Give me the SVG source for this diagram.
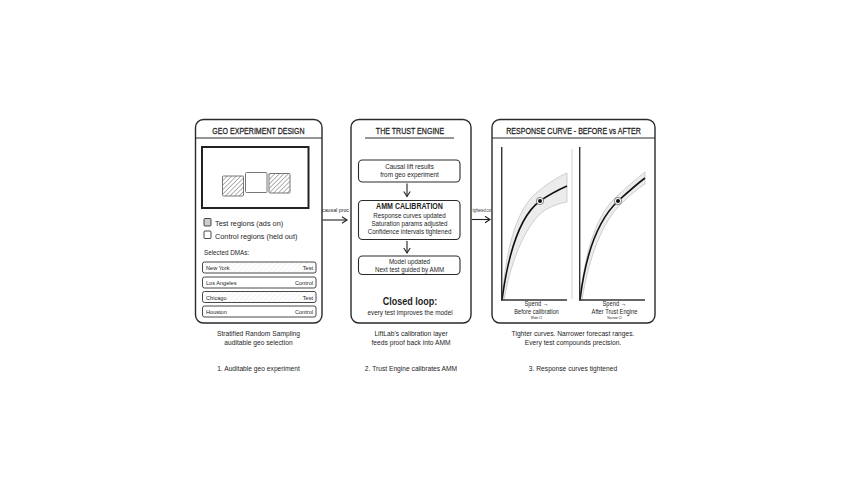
<svg xmlns="http://www.w3.org/2000/svg" width="848" height="478" viewBox="0 0 848 478">
<defs>
<style>
.t{font-family:"Liberation Sans",Arial,sans-serif;fill:#1e1e1e}
.m{text-anchor:middle}
.e{text-anchor:end}
.h{stroke:#1e1e1e;stroke-width:0.25}
.panel{fill:#fff;stroke:#2a2a2a;stroke-width:1.4}
.box{fill:#fff;stroke:#2a2a2a;stroke-width:1.1}
.div{stroke:#2a2a2a;stroke-width:1}
.row{stroke:#333;stroke-width:0.9}
.ax{stroke:#333;stroke-width:1.4;fill:none}
.band{fill:#ececec;stroke:#bdbdbd;stroke-width:0.7}
.curve{fill:none;stroke:#111;stroke-width:1.6}
.arr{stroke:#222;stroke-width:1.1;fill:none}
</style>
<pattern id="hatch" width="3.2" height="3.2" patternUnits="userSpaceOnUse" patternTransform="rotate(45)">
<rect width="3.2" height="3.2" fill="#fff"/>
<line x1="0" y1="0" x2="0" y2="3.2" stroke="#555" stroke-width="0.9"/>
</pattern>
<pattern id="lhatch" width="3.5" height="3.5" patternUnits="userSpaceOnUse" patternTransform="rotate(45)">
<rect width="3.5" height="3.5" fill="#fff"/>
<line x1="0" y1="0" x2="0" y2="3.5" stroke="#e2e2e2" stroke-width="0.8"/>
</pattern>
<marker id="ah" markerWidth="8" markerHeight="8" refX="6" refY="4" orient="auto" markerUnits="userSpaceOnUse">
<path d="M1,0.8 L6,4 L1,7.2" fill="none" stroke="#222" stroke-width="1.1"/>
</marker>
</defs>
<rect width="848" height="478" fill="#fff"/>

<g id="panel-geo">
<rect class="panel" x="195.5" y="119.5" width="126.5" height="203.5" rx="8"/>
<text class="t m h" transform="translate(258.5,133.5) scale(0.82,1)" font-size="8.6">GEO EXPERIMENT DESIGN</text>
<line class="div" x1="195.5" y1="138" x2="322" y2="138"/>
<rect x="202" y="147" width="106.5" height="61" fill="#fff" stroke="#222" stroke-width="2"/>
<rect x="222.5" y="176" width="21" height="20" fill="url(#hatch)" stroke="#777" stroke-width="1" rx="1"/>
<rect x="245.5" y="172.5" width="21.5" height="20" fill="#fff" stroke="#777" stroke-width="1" rx="1"/>
<rect x="269" y="173.5" width="21" height="19.5" fill="url(#hatch)" stroke="#777" stroke-width="1" rx="1"/>
<rect x="204" y="218.5" width="7" height="7.5" fill="#ccc" stroke="#333" stroke-width="0.9" rx="1"/>
<text class="t" x="215" y="226" font-size="7.3">Test regions (ads on)</text>
<rect x="204" y="231" width="7" height="7.5" fill="#fff" stroke="#333" stroke-width="0.9" rx="1"/>
<text class="t" x="215" y="238.5" font-size="7.3">Control regions (held out)</text>
<text class="t" x="204" y="255" font-size="6.3">Selected DMAs:</text>
<rect class="row" x="202.5" y="262" width="113.5" height="11" rx="2" fill="url(#lhatch)"/>
<text class="t" x="206" y="270" font-size="5.6">New York</text>
<text class="t e" x="313" y="270" font-size="5.6">Test</text>
<rect class="row" x="202.5" y="277" width="113.5" height="11" rx="2" fill="#fff"/>
<text class="t" x="206" y="285" font-size="5.6">Los Angeles</text>
<text class="t e" x="313" y="285" font-size="5.6">Control</text>
<rect class="row" x="202.5" y="291.5" width="113.5" height="11" rx="2" fill="url(#lhatch)"/>
<text class="t" x="206" y="299.5" font-size="5.6">Chicago</text>
<text class="t e" x="313" y="299.5" font-size="5.6">Test</text>
<rect class="row" x="202.5" y="306" width="113.5" height="11" rx="2" fill="#fff"/>
<text class="t" x="206" y="314" font-size="5.6">Houston</text>
<text class="t e" x="313" y="314" font-size="5.6">Control</text>
</g>

<g id="panel-trust">
<rect class="panel" x="351" y="119.5" width="120" height="203.5" rx="8"/>
<text class="t m h" transform="translate(410,133.5) scale(0.82,1)" font-size="8.6">THE TRUST ENGINE</text>
<line class="div" x1="365" y1="138" x2="454" y2="138"/>
<g id="box-causal">
<rect class="box" x="358.5" y="160" width="101.5" height="22" rx="4"/>
<text class="t m" transform="translate(409.5,169.3) scale(0.82,1)" font-size="7.8">Causal lift results</text>
<text class="t m" transform="translate(409.5,177.3) scale(0.82,1)" font-size="7.8">from geo experiment</text>
</g>
<g id="box-amm">
<rect class="box" x="358.5" y="200.5" width="101.5" height="39" rx="4"/>
<text class="t m" transform="translate(409.5,209.3) scale(0.82,1)" font-size="8.6" font-weight="bold">AMM CALIBRATION</text>
<text class="t m" transform="translate(409.5,217.6) scale(0.82,1)" font-size="7.6">Response curves updated</text>
<text class="t m" transform="translate(409.5,225.6) scale(0.82,1)" font-size="7.6">Saturation params adjusted</text>
<text class="t m" transform="translate(409.5,233.6) scale(0.82,1)" font-size="7.6">Confidence intervals tightened</text>
</g>
<g id="box-model">
<rect class="box" x="358.5" y="256" width="101.5" height="18.5" rx="4"/>
<text class="t m" transform="translate(409.5,264.2) scale(0.82,1)" font-size="7.6">Model updated</text>
<text class="t m" transform="translate(409.5,272) scale(0.82,1)" font-size="7.6">Next test guided by AMM</text>
</g>
<line class="arr" x1="407" y1="183.5" x2="407" y2="196.5" marker-end="url(#ah)"/>
<line class="arr" x1="407" y1="241" x2="407" y2="253" marker-end="url(#ah)"/>
<text class="t m" transform="translate(410,305) scale(0.82,1)" font-size="11" font-weight="bold">Closed loop:</text>
<text class="t m" transform="translate(410,314.5) scale(0.82,1)" font-size="7.8">every test improves the model</text>
</g>

<g id="panel-curves">
<rect class="panel" x="492" y="119.5" width="163" height="203.5" rx="8"/>
<text class="t m h" transform="translate(573.5,133.5) scale(0.82,1)" font-size="8.6">RESPONSE CURVE - BEFORE vs AFTER</text>
<line class="div" x1="492" y1="138" x2="655" y2="138"/>
<line x1="572" y1="149" x2="572" y2="299" stroke="#d0d0d0" stroke-width="1"/>
<g id="chart-before">
<path class="band" d="M502,300 C506,245 518,205 540,190 C550,182 558,177 567,173 L567,202 C560,203 552,206 545,210 C528,222 512,255 504,300 Z"/>
<path class="curve" d="M502,300 C510,240 525,212 540,201 C550,194 558,190 567,186"/>
<line class="ax" x1="501.7" y1="147" x2="501.7" y2="300.5"/>
<line class="ax" x1="501" y1="300" x2="567" y2="300"/>
<circle cx="540" cy="201" r="3.6" fill="#fff" stroke="#777" stroke-width="0.9"/>
<circle cx="540" cy="201" r="2" fill="#111"/>
<text class="t m" transform="translate(536.5,306.3) scale(0.82,1)" font-size="7">Spend →</text>
<text class="t m" transform="translate(536.5,313.8) scale(0.82,1)" font-size="7">Before calibration</text>
<text class="t m" x="536.5" y="319" font-size="3.2" fill="#666">Wide CI</text>
</g>
<g id="chart-after">
<path class="band" d="M580,300 C585,248 598,213 617,196 C627,187 636,179 645,172 L645,184 C637,189 629,196 620,205 C603,222 589,256 582,300 Z"/>
<path class="curve" d="M580,300 C586,250 600,218 618,201 C628,192 637,184 645,178"/>
<line class="ax" x1="579.7" y1="147" x2="579.7" y2="300.5"/>
<line class="ax" x1="579" y1="300" x2="645" y2="300"/>
<circle cx="618" cy="201" r="3.6" fill="#fff" stroke="#777" stroke-width="0.9"/>
<circle cx="618" cy="201" r="2" fill="#111"/>
<text class="t m" transform="translate(614.5,306.3) scale(0.82,1)" font-size="7">Spend →</text>
<text class="t m" transform="translate(614.5,313.8) scale(0.82,1)" font-size="7">After Trust Engine</text>
<text class="t m" x="614.5" y="319" font-size="3.2" fill="#666">Narrow CI</text>
</g>
</g>

<g id="connectors">
<line class="arr" x1="322.5" y1="220" x2="347" y2="220" marker-end="url(#ah)"/>
<text class="t" x="322" y="212" font-size="5.5" textLength="27" lengthAdjust="spacingAndGlyphs">causal proc</text>
<line class="arr" x1="472" y1="219.5" x2="490" y2="219.5" marker-end="url(#ah)"/>
<text class="t" x="472.5" y="211.5" font-size="5.5" textLength="18.5" lengthAdjust="spacingAndGlyphs">tightened cur</text>
</g>

<g id="captions">
<text class="t m" transform="translate(258.5,336.3) scale(0.88,1)" font-size="7.6">Stratified Random Sampling</text>
<text class="t m" transform="translate(258.5,345) scale(0.88,1)" font-size="7.6">auditable geo selection</text>
<text class="t m" transform="translate(258.5,370.5) scale(0.88,1)" font-size="7.6">1. Auditable geo experiment</text>
<text class="t m" transform="translate(411,336.3) scale(0.88,1)" font-size="7.6">LiftLab's calibration layer</text>
<text class="t m" transform="translate(411,345) scale(0.88,1)" font-size="7.6">feeds proof back into AMM</text>
<text class="t m" transform="translate(411,370.5) scale(0.88,1)" font-size="7.6">2. Trust Engine calibrates AMM</text>
<text class="t m" transform="translate(573,336.3) scale(0.88,1)" font-size="7.6">Tighter curves. Narrower forecast ranges.</text>
<text class="t m" transform="translate(573,345) scale(0.88,1)" font-size="7.6">Every test compounds precision.</text>
<text class="t m" transform="translate(573,370.5) scale(0.88,1)" font-size="7.6">3. Response curves tightened</text>
</g>
</svg>
